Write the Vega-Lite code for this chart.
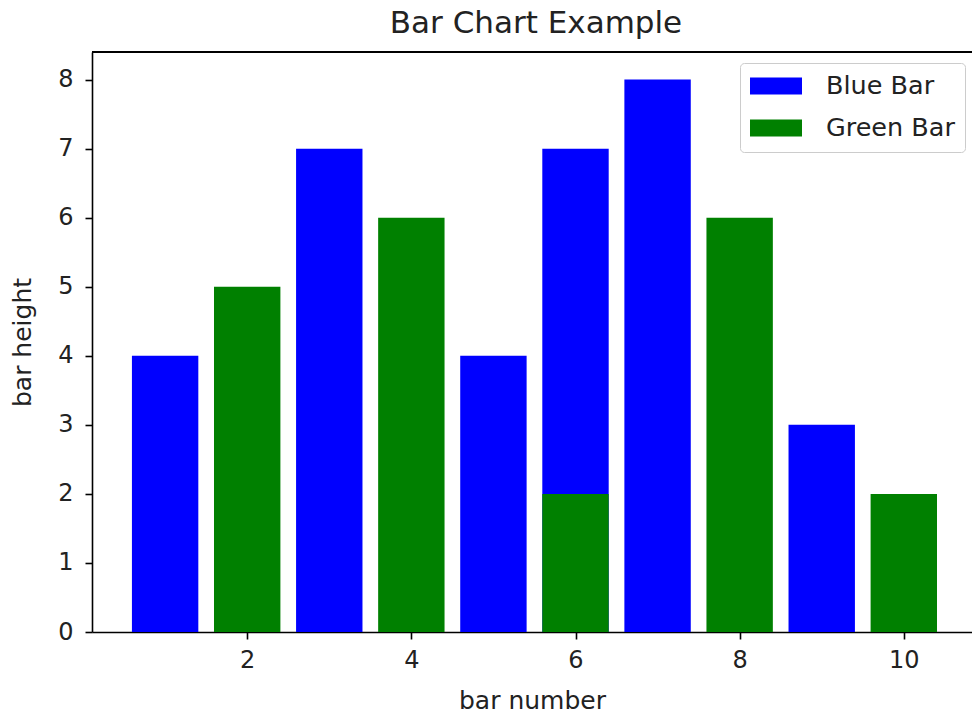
{
  "$schema": "https://vega.github.io/schema/vega-lite/v6.json",
  "width": 880,
  "height": 580,
  "autosize": {"type": "none"},
  "padding": {"left": 92, "top": 52, "right": 0, "bottom": 84},
  "background": "white",
  "title": {"text": "Bar Chart Example", "fontSize": 31, "font": "DejaVu Sans", "fontWeight": "normal", "color": "#222", "offset": 11, "dx": 4},
  "config": {
    "view": {"stroke": null},
    "font": "DejaVu Sans",
    "axis": {"labelFont": "DejaVu Sans", "titleFont": "DejaVu Sans", "labelFontSize": 24, "titleFontSize": 25, "titleFontWeight": "normal", "labelColor": "#222", "titleColor": "#222", "domainColor": "#000", "domainWidth": 1.6, "tickColor": "#000", "tickWidth": 1.6, "tickSize": 7, "grid": false}
  },
  "data": {"values": [
    {"series": "Blue Bar", "x": 1, "height": 4},
    {"series": "Blue Bar", "x": 3, "height": 7},
    {"series": "Blue Bar", "x": 5, "height": 4},
    {"series": "Blue Bar", "x": 6, "height": 7},
    {"series": "Blue Bar", "x": 7, "height": 8},
    {"series": "Blue Bar", "x": 9, "height": 3},
    {"series": "Green Bar", "x": 2, "height": 5},
    {"series": "Green Bar", "x": 4, "height": 6},
    {"series": "Green Bar", "x": 6, "height": 2},
    {"series": "Green Bar", "x": 8, "height": 6},
    {"series": "Green Bar", "x": 10, "height": 2}
  ]},
  "layer": [
    {
      "mark": {"type": "bar", "width": 66.4, "cornerRadius": 0},
      "encoding": {
        "x": {"field": "x", "type": "quantitative", "scale": {"domain": [0.17, 10.77], "nice": false, "zero": false},
              "axis": {"values": [2, 4, 6, 8, 10], "title": "bar number", "labelPadding": 9, "titlePadding": 16}},
        "y": {"field": "height", "type": "quantitative", "stack": null, "scale": {"domain": [0, 8.4], "nice": false},
              "axis": {"values": [0, 1, 2, 3, 4, 5, 6, 7, 8], "format": "d", "title": "bar height", "labelPadding": 12, "titlePadding": 22}},
        "color": {"field": "series", "type": "nominal",
                  "scale": {"domain": ["Blue Bar", "Green Bar"], "range": ["#0000ff", "#008000"]},
                  "legend": {"title": null, "orient": "none", "legendX": 648, "legendY": 11,
                             "symbolType": "M-1,-0.66H3V0.66H-1Z", "symbolSize": 676, "symbolStrokeWidth": 0,
                             "labelFontSize": 25.5, "labelFont": "DejaVu Sans", "labelColor": "#222", "labelOffset": 50,
                             "rowPadding": 15, "padding": 10, "strokeColor": "#ccc", "fillColor": "white", "cornerRadius": 4}}
      }
    },
    {
      "mark": {"type": "rule", "color": "#000", "strokeWidth": 1.6},
      "encoding": {"y": {"datum": 8.4}}
    }
  ]
}
